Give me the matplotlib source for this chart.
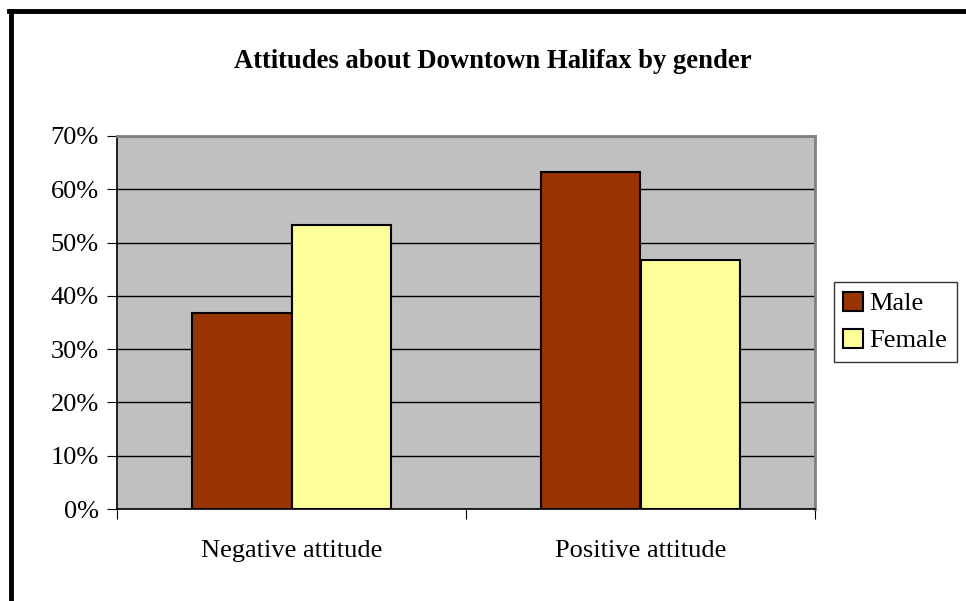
import numpy as np
import matplotlib.pyplot as plt
from matplotlib.lines import Line2D
from matplotlib.ticker import PercentFormatter

categories = ["Negative attitude", "Positive attitude"]
male = [36.7, 63.3]
female = [53.3, 46.7]
series_names = ["Male", "Female"]
colors = ["#993300", "#FFFF99"]

plt.rcParams['font.family'] = ['Liberation Serif', 'DejaVu Serif']

fig = plt.figure(figsize=(9.66, 6.01), dpi=100)
ax = fig.add_axes([117 / 966, 92 / 601, 698 / 966, 373 / 601])
ax.set_facecolor("#C0C0C0")

x = np.arange(len(categories))
w = 1 / 3.5
ax.bar(x - w / 2, male, w, color=colors[0], edgecolor="black", linewidth=1.5,
       label=series_names[0], zorder=3)
ax.bar(x + w / 2, female, w, color=colors[1], edgecolor="black", linewidth=1.5,
       label=series_names[1], zorder=3)

ax.set_xlim(-0.5, len(categories) - 0.5)
ax.set_ylim(0, 70)
ax.set_yticks(np.arange(0, 71, 10))
ax.yaxis.set_major_formatter(PercentFormatter(decimals=0))
ax.grid(axis="y", color="black", linewidth=1, zorder=1)

ax.set_xticks([-0.5, 0.5, 1.5], minor=False)
ax.set_xticklabels([])
ax.set_xticks(x, minor=True)
ax.set_xticklabels(categories, minor=True)
ax.tick_params(axis="x", which="minor", length=0, pad=22, labelsize=19)
ax.tick_params(axis="x", which="major", length=7, direction="out", color="black")
ax.tick_params(axis="y", length=7, direction="out", labelsize=19, pad=6)

for s in ["top", "right"]:
    ax.spines[s].set_color("#808080")
    ax.spines[s].set_linewidth(2)
for s in ["left", "bottom"]:
    ax.spines[s].set_color("black")
    ax.spines[s].set_linewidth(1.2)

fig.text(493 / 966, 1 - 61 / 601, "Attitudes about Downtown Halifax by gender",
         ha="center", va="center", fontsize=19.2, fontweight="bold")

leg = fig.legend(loc="center left", bbox_to_anchor=(834 / 966, 1 - 322 / 601),
                 fontsize=19, frameon=True, fancybox=False, edgecolor="black",
                 handlelength=0.75, handleheight=0.75, handletextpad=0.25,
                 borderpad=0.35, labelspacing=0.5, borderaxespad=0)
leg.get_frame().set_linewidth(1)

fig.add_artist(Line2D([11 / 966, 11 / 966], [0, 1 - 11 / 601], color="black",
                      linewidth=3.5, transform=fig.transFigure))
fig.add_artist(Line2D([9 / 966, 1], [1 - 11 / 601, 1 - 11 / 601], color="black",
                      linewidth=3.5, transform=fig.transFigure))

fig.savefig("out.png", dpi=100)
